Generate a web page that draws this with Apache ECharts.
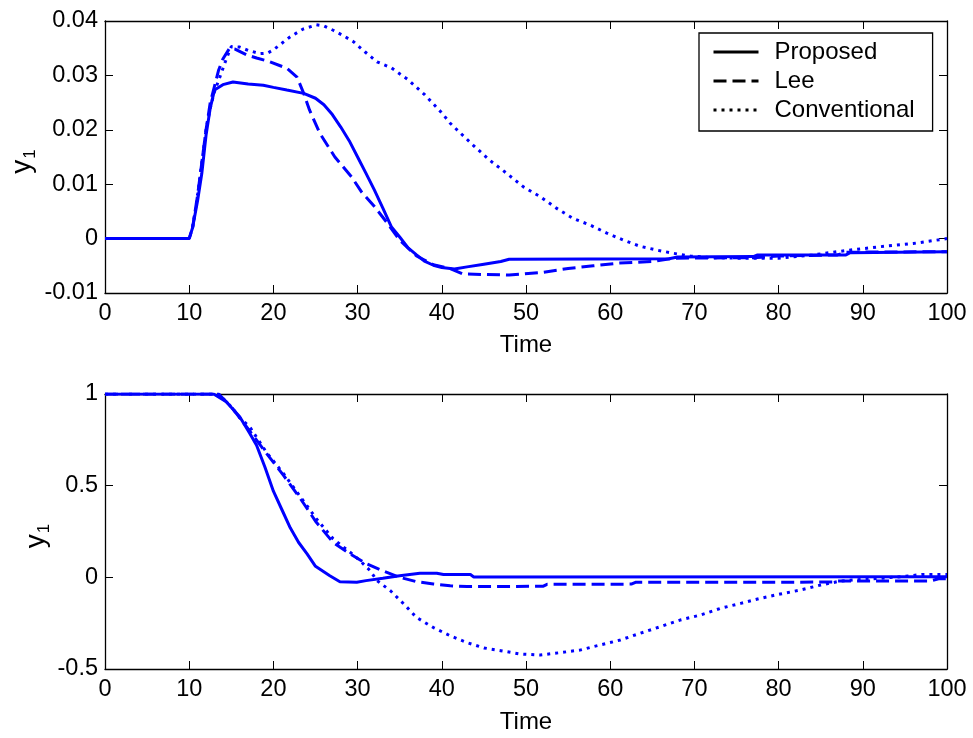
<!DOCTYPE html>
<html>
<head>
<meta charset="utf-8">
<script src="https://cdn.jsdelivr.net/npm/echarts@6/dist/echarts.min.js"></script>
<style>
html,body{margin:0;padding:0;background:#fff;}
#c{width:973px;height:738px;}
</style>
</head>
<body>
<div id="c"></div>
<script>
// ---- Data ----
var seriesNames = ['Proposed', 'Lee', 'Conventional'];
var xTicks = [0, 10, 20, 30, 40, 50, 60, 70, 80, 90, 100];
var topYTicks = [-0.01, 0, 0.01, 0.02, 0.03, 0.04];
var bottomYTicks = [-0.5, 0, 0.5, 1];

var topProposed = [[0,0],[10,0],[10.4,0.002],[11,0.007],[11.5,0.012],[12,0.019],[12.5,0.024],[13,0.0273],[14,0.0283],[15.2,0.0288],[17,0.0284],[18.8,0.0282],[20,0.0278],[21.6,0.0273],[23.6,0.0267],[25,0.0258],[26,0.0246],[27,0.0228],[28,0.0205],[29,0.018],[30,0.015],[31,0.012],[32,0.0089],[33,0.0056],[34,0.0022],[35,0.0003],[36,-0.0017],[37,-0.003],[38,-0.0042],[39,-0.0049],[40,-0.0053],[41.5,-0.0056],[43,-0.0052],[45,-0.0047],[47,-0.0042],[48,-0.0038],[67,-0.0037],[68,-0.0034],[77,-0.0033],[77.5,-0.003],[88,-0.003],[88.5,-0.0026],[100,-0.0024]];
var topLee = [[0,0],[10,0],[10.4,0.002],[11,0.008],[11.5,0.014],[12,0.02],[12.5,0.025],[13,0.028],[13.5,0.031],[14,0.033],[14.8,0.035],[15.5,0.0348],[16.8,0.0338],[18,0.0332],[19.6,0.0325],[21.6,0.0313],[22.8,0.0297],[23.6,0.0267],[24.3,0.0236],[25.5,0.0194],[27.3,0.015],[29.3,0.0113],[30.5,0.0085],[32,0.0059],[33.5,0.0029],[35,-0.0003],[37,-0.0032],[39,-0.0048],[41,-0.0055],[42.5,-0.0065],[48,-0.0067],[52,-0.0062],[55,-0.0055],[58,-0.005],[61,-0.0045],[65,-0.0042],[67.5,-0.0036],[77,-0.0035],[80,-0.0032],[87,-0.003],[88,-0.0025],[100,-0.0024]];
var topConv = [[0,0],[10,0],[10.4,0.002],[11,0.008],[11.5,0.014],[12,0.02],[12.5,0.024],[13,0.027],[13.6,0.0295],[14.4,0.033],[15,0.0353],[16,0.0352],[17,0.0346],[18.4,0.034],[19.3,0.0341],[20,0.0347],[22,0.0371],[23.5,0.0385],[25.1,0.0393],[26,0.0391],[27.1,0.0383],[28.3,0.0373],[29.5,0.0362],[30.9,0.0343],[32.3,0.0325],[34,0.0314],[36,0.0292],[38,0.0264],[40,0.0231],[41,0.0212],[43.7,0.0172],[45.7,0.0144],[47.7,0.012],[49.7,0.0095],[51.7,0.0077],[53.6,0.0056],[55.6,0.0037],[57.6,0.0025],[59.6,0.001],[61.6,-0.0003],[63.5,-0.0014],[65.5,-0.0021],[67.5,-0.0027],[69.5,-0.0032],[72,-0.0035],[75,-0.0036],[80,-0.0036],[84,-0.003],[88,-0.0022],[92,-0.0015],[96,-0.0009],[100,0.0]];

var bottomProposed = [[0,1],[12.9,1],[14.4,0.958],[16,0.876],[17.2,0.785],[18,0.72],[19,0.6],[20,0.47],[21,0.37],[22,0.27],[23,0.19],[24,0.128],[25,0.06],[26.7,0.009],[27.9,-0.024],[29.9,-0.027],[31,-0.018],[33,-0.005],[35,0.009],[37.4,0.022],[39.4,0.022],[40.2,0.015],[43.4,0.015],[43.8,0.002],[100,0.003]];
var bottomLee = [[0,1],[13.5,1],[15,0.93],[16,0.87],[17,0.81],[19.2,0.675],[21.2,0.556],[23.2,0.43],[25.1,0.3],[27.1,0.19],[29.1,0.128],[31.1,0.073],[33,0.036],[35,0.0],[37,-0.024],[39,-0.036],[41,-0.046],[43,-0.05],[52,-0.049],[52.5,-0.038],[62.5,-0.037],[63,-0.027],[86.5,-0.026],[87,-0.02],[98,-0.02],[99,-0.008],[100,-0.007]];
var bottomConv = [[0,1],[13.5,1],[15,0.93],[16,0.87],[17.2,0.82],[19.2,0.68],[21.2,0.566],[23.2,0.44],[25.1,0.32],[27.1,0.21],[29.1,0.137],[30.3,0.09],[31.5,0.036],[32.3,-0.018],[33.9,-0.073],[35.5,-0.146],[37,-0.219],[39,-0.274],[41,-0.319],[43,-0.356],[45,-0.385],[47,-0.4],[49.3,-0.418],[51.7,-0.424],[54,-0.411],[56.4,-0.397],[58.8,-0.369],[61.2,-0.342],[63.5,-0.306],[65.9,-0.27],[68.3,-0.233],[70.7,-0.206],[73.1,-0.169],[75.5,-0.142],[77.8,-0.115],[80.2,-0.091],[82.6,-0.069],[85,-0.042],[87.4,-0.02],[89.8,-0.011],[92.2,-0.005],[94.6,0.004],[97,0.015],[100,0.015]];

// ---- Chart ----
var FONT = 'Liberation Sans, Arial, Helvetica, sans-serif';
var FS = 23.5;
var FS2 = 24;
var BLUE = '#0000ff';
var chart = echarts.init(document.getElementById('c'), null, {renderer: 'canvas'});

function fmt(v) { return String(+v.toFixed(4)); }

var tickStyle = {show: true, inside: true, length: 8, lineStyle: {color: '#000', width: 1}};
var lineStyleAx = {show: true, onZero: false, lineStyle: {color: '#000', width: 1.3}};

function xAxes(gi, nameGap) {
  return [
    {gridIndex: gi, type: 'value', position: 'bottom', min: xTicks[0], max: xTicks[xTicks.length - 1], interval: xTicks[1] - xTicks[0],
     name: 'Time', nameLocation: 'middle', nameGap: nameGap, nameMoveOverlap: false,
     nameTextStyle: {fontFamily: FONT, fontSize: FS2, color: '#000'},
     axisLine: lineStyleAx, axisTick: tickStyle, splitLine: {show: false},
     axisLabel: {fontFamily: FONT, fontSize: FS, color: '#000', margin: 9, formatter: fmt}},
    {gridIndex: gi, type: 'value', position: 'top', min: xTicks[0], max: xTicks[xTicks.length - 1], interval: xTicks[1] - xTicks[0],
     axisLine: lineStyleAx, axisTick: tickStyle, splitLine: {show: false}, axisLabel: {show: false}}
  ];
}
function yAxes(gi, ticks, nameGap) {
  return [
    {gridIndex: gi, type: 'value', position: 'left', min: ticks[0], max: ticks[ticks.length - 1], interval: ticks[1] - ticks[0],
     name: '{a|y}{b|1}', nameLocation: 'middle', nameGap: nameGap, nameRotate: 90, nameMoveOverlap: false,
     nameTextStyle: {fontFamily: FONT, fontSize: 28, color: '#000',
       rich: {a: {fontFamily: FONT, fontSize: 28, color: '#000', lineHeight: 34, verticalAlign: 'middle'},
              b: {fontFamily: FONT, fontSize: 17, color: '#000', lineHeight: 34, verticalAlign: 'bottom', padding: [0, 9, 0, 1]}}},
     axisLine: lineStyleAx, axisTick: tickStyle, splitLine: {show: false},
     axisLabel: {fontFamily: FONT, fontSize: FS, color: '#000', margin: 7, formatter: fmt}},
    {gridIndex: gi, type: 'value', position: 'right', min: ticks[0], max: ticks[ticks.length - 1], interval: ticks[1] - ticks[0],
     axisLine: lineStyleAx, axisTick: tickStyle, splitLine: {show: false}, axisLabel: {show: false}}
  ];
}

function mk(name, data, type, xi, yi, z) {
  var ls = {color: BLUE, width: 3, type: type, cap: 'butt'};
  if (type === 'dashed') { ls.type = [13, 6]; }
  if (type === 'dotted') { ls.type = [3, 5]; }
  return {name: name, type: 'line', xAxisIndex: xi, yAxisIndex: yi, data: data, showSymbol: false, symbol: 'none',
          lineStyle: ls, itemStyle: {color: BLUE}, animation: false, z: z, silent: true};
}

var option = {
  backgroundColor: '#fff',
  animation: false,
  grid: [
    {left: 105, top: 21, width: 842, height: 272, containLabel: false, outerBoundsMode: 'none'},
    {left: 105, top: 394, width: 842, height: 275, containLabel: false, outerBoundsMode: 'none'}
  ],
  xAxis: xAxes(0, 40).concat(xAxes(1, 41)),
  yAxis: yAxes(0, topYTicks, 66).concat(yAxes(1, bottomYTicks, 52)),
  legend: {
    show: true,
    data: seriesNames,
    orient: 'vertical', left: 699, top: 33,
    backgroundColor: '#fff', borderColor: '#000', borderWidth: 1.3, borderRadius: 0,
    padding: [7, 18, 9, 13], itemWidth: 45, itemHeight: 20, itemGap: 5,
    lineStyle: {color: '#000', width: 3},
    itemStyle: {opacity: 0},
    textStyle: {fontFamily: FONT, fontSize: FS2, color: '#000', lineHeight: 24, padding: [0, 0, 0, 11]},
    selectedMode: false
  },
  series: [
    mk('Proposed', topProposed, 'solid', 0, 0, 3),
    mk('Lee', topLee, 'dashed', 0, 0, 2),
    mk('Conventional', topConv, 'dotted', 0, 0, 1),
    mk('Proposed', bottomProposed, 'solid', 2, 2, 3),
    mk('Lee', bottomLee, 'dashed', 2, 2, 2),
    mk('Conventional', bottomConv, 'dotted', 2, 2, 1)
  ]
};
chart.setOption(option);
</script>
</body>
</html>
